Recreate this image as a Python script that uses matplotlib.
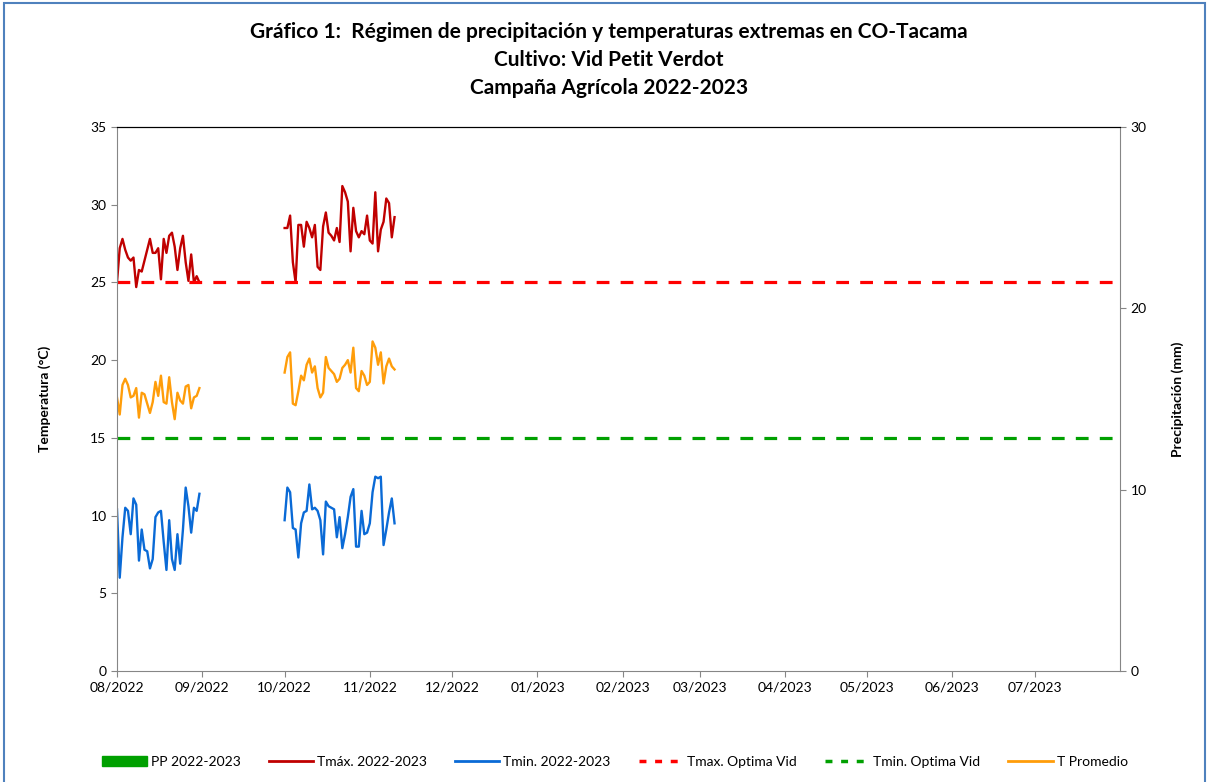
import numpy as np
import pandas as pd
import matplotlib
matplotlib.use("Agg")
import matplotlib.pyplot as plt
import matplotlib.dates as mdates
import matplotlib.patches as patches
from matplotlib.lines import Line2D

plt.rcParams['font.family'] = ['Lato', 'DejaVu Sans']

# --- Data ---
start_1 = "2022-08-01"   # first block: August
start_2 = "2022-10-01"   # second block: October to mid November

tmax_1 = [25.0, 27.2, 27.8, 27.1, 26.6, 26.4, 26.6, 24.7, 25.8, 25.7, 26.4, 27.1, 27.8, 26.9, 26.9, 27.2,
          25.2, 27.8, 26.9, 28.0, 28.2, 27.3, 25.8, 27.2, 28.0, 26.3, 25.1, 26.8, 25.0, 25.4, 25.0]
tmax_2 = [28.5, 28.5, 29.3, 26.3, 25.0, 28.7, 28.7, 27.3, 28.9, 28.5, 27.9, 28.7, 26.0, 25.8, 28.6, 29.5,
          28.2, 28.0, 27.7, 28.5, 27.6, 31.2, 30.8, 30.2, 27.0, 29.8, 28.3, 27.9, 28.3, 28.1, 29.3, 27.7,
          27.5, 30.8, 27.0, 28.4, 28.9, 30.4, 30.1, 27.9, 29.2]

tavg_1 = [17.6, 16.5, 18.4, 18.8, 18.4, 17.6, 17.7, 18.2, 16.3, 17.9, 17.8, 17.2, 16.6, 17.3, 18.6, 17.7,
          19.0, 17.3, 17.2, 18.9, 17.3, 16.2, 17.9, 17.4, 17.2, 18.3, 18.4, 16.9, 17.6, 17.7, 18.2]
tavg_2 = [19.2, 20.2, 20.5, 17.2, 17.1, 18.0, 19.0, 18.7, 19.7, 20.1, 19.2, 19.6, 18.2, 17.6, 17.9, 20.2,
          19.5, 19.3, 19.1, 18.6, 18.8, 19.5, 19.7, 20.0, 19.2, 20.8, 18.2, 18.0, 19.3, 19.0, 18.4, 18.6,
          21.2, 20.8, 19.7, 20.5, 18.5, 19.6, 20.1, 19.6, 19.4]

tmin_1 = [10.4, 6.0, 8.6, 10.5, 10.3, 8.8, 11.1, 10.7, 7.1, 9.1, 7.8, 7.7, 6.6, 7.2, 9.9, 10.2,
          10.3, 8.3, 6.5, 9.7, 7.2, 6.5, 8.8, 6.9, 9.1, 11.8, 10.6, 8.9, 10.5, 10.3, 11.4]
tmin_2 = [9.7, 11.8, 11.5, 9.2, 9.1, 7.3, 9.5, 10.2, 10.3, 12.0, 10.4, 10.5, 10.3, 9.7, 7.5, 10.9,
          10.6, 10.5, 10.4, 8.6, 9.9, 7.9, 8.8, 9.9, 11.2, 11.7, 8.0, 8.0, 10.3, 8.8, 8.9, 9.5,
          11.5, 12.5, 12.4, 12.5, 8.1, 9.1, 10.2, 11.1, 9.5]

# no rainfall recorded in the period
pp_1 = [0.0] * len(tmax_1)
pp_2 = [0.0] * len(tmax_2)

tmax_optima = 25
tmin_optima = 15

tick_labels = ["08/2022", "09/2022", "10/2022", "11/2022", "12/2022", "01/2023",
               "02/2023", "03/2023", "04/2023", "05/2023", "06/2023", "07/2023"]

title_lines = ["Gráfico 1:  Régimen de precipitación y temperaturas extremas en CO-Tacama",
               "Cultivo: Vid Petit Verdot",
               "Campaña Agrícola 2022-2023"]

# --- Build dates ---
dates_1 = pd.date_range(start_1, periods=len(tmax_1), freq="D")
dates_2 = pd.date_range(start_2, periods=len(tmax_2), freq="D")
tick_dates = [pd.to_datetime(t, format="%m/%Y") for t in tick_labels]
x_start = pd.Timestamp("2022-08-01")
x_end = pd.Timestamp("2023-08-01")

# --- Colours ---
c_tmax = "#c00000"
c_tmin = "#0a6ad6"
c_tavg = "#ff9d0a"
c_opt_max = "#ff0000"
c_opt_min = "#00a000"
c_pp = "#00a000"

fig = plt.figure(figsize=(12.11, 7.82), dpi=100)
ax = fig.add_axes([0.0966, 0.142, 0.8283, 0.6956])
ax2 = ax.twinx()

# precipitation bars (right axis)
ax2.bar(dates_1, pp_1, width=0.8, color=c_pp)
ax2.bar(dates_2, pp_2, width=0.8, color=c_pp)
ax2.set_ylim(0, 30)
ax2.set_yticks([0, 10, 20, 30])
ax2.set_ylabel("Precipitación (mm)", fontsize=10, fontweight="bold", labelpad=18)

# temperature lines (left axis)
lw = 1.7
for d, y in [(dates_1, tmax_1), (dates_2, tmax_2)]:
    ax.plot(d, y, color=c_tmax, lw=lw)
for d, y in [(dates_1, tmin_1), (dates_2, tmin_2)]:
    ax.plot(d, y, color=c_tmin, lw=lw)
for d, y in [(dates_1, tavg_1), (dates_2, tavg_2)]:
    ax.plot(d, y, color=c_tavg, lw=lw)

ax.plot([x_start, x_end], [tmax_optima, tmax_optima], color=c_opt_max, lw=2.3, ls=(0, (4, 3.5)))
ax.plot([x_start, x_end], [tmin_optima, tmin_optima], color=c_opt_min, lw=2.3, ls=(0, (4, 3.5)))

ax.set_xlim(x_start, x_end)
ax.set_ylim(0, 35)
ax.set_yticks(range(0, 36, 5))
ax.set_xticks(tick_dates)
ax.set_xticklabels(tick_labels)
ax.set_ylabel("Temperatura (°C)", fontsize=10, fontweight="bold", labelpad=28)

for a in (ax, ax2):
    a.tick_params(axis="both", labelsize=10, length=4, color="#868686", direction="out")
    for s in ("left", "bottom"):
        a.spines[s].set_color("#868686")
    for s in ("top", "right"):
        a.spines[s].set_color("black")
ax.spines["right"].set_visible(False)
ax2.spines["left"].set_visible(False)
ax2.spines["bottom"].set_visible(False)
ax2.spines["right"].set_color("#868686")
ax2.spines["top"].set_color("black")

# three-line title
for i, line in enumerate(title_lines):
    fig.text(0.503, 1 - (32 + 28 * i) / 782, line, ha="center", va="center",
             fontsize=15, fontweight="bold")

# legend along the bottom
handles = [
    patches.Patch(color=c_pp),
    Line2D([], [], color=c_tmax, lw=2),
    Line2D([], [], color=c_tmin, lw=2),
    Line2D([], [], color=c_opt_max, lw=2.5, ls=(0, (2, 2.5))),
    Line2D([], [], color=c_opt_min, lw=2.5, ls=(0, (2, 2.5))),
    Line2D([], [], color=c_tavg, lw=2),
]
labels = ["PP 2022-2023", "Tmáx. 2022-2023", "Tmin. 2022-2023",
          "Tmax. Optima Vid", "Tmin. Optima Vid", "T Promedio"]
fig.legend(handles, labels, loc="center", bbox_to_anchor=(0.508, 0.026), ncol=6,
           frameon=False, fontsize=10, handlelength=3.2, columnspacing=2.0, handletextpad=0.3)

# outer chart border
fig.patches.append(patches.Rectangle((0.003, -0.01), 0.992, 1.006, transform=fig.transFigure,
                                     fill=False, edgecolor="#4f81bd", lw=1.5))

plt.savefig("out.png", dpi=100)
